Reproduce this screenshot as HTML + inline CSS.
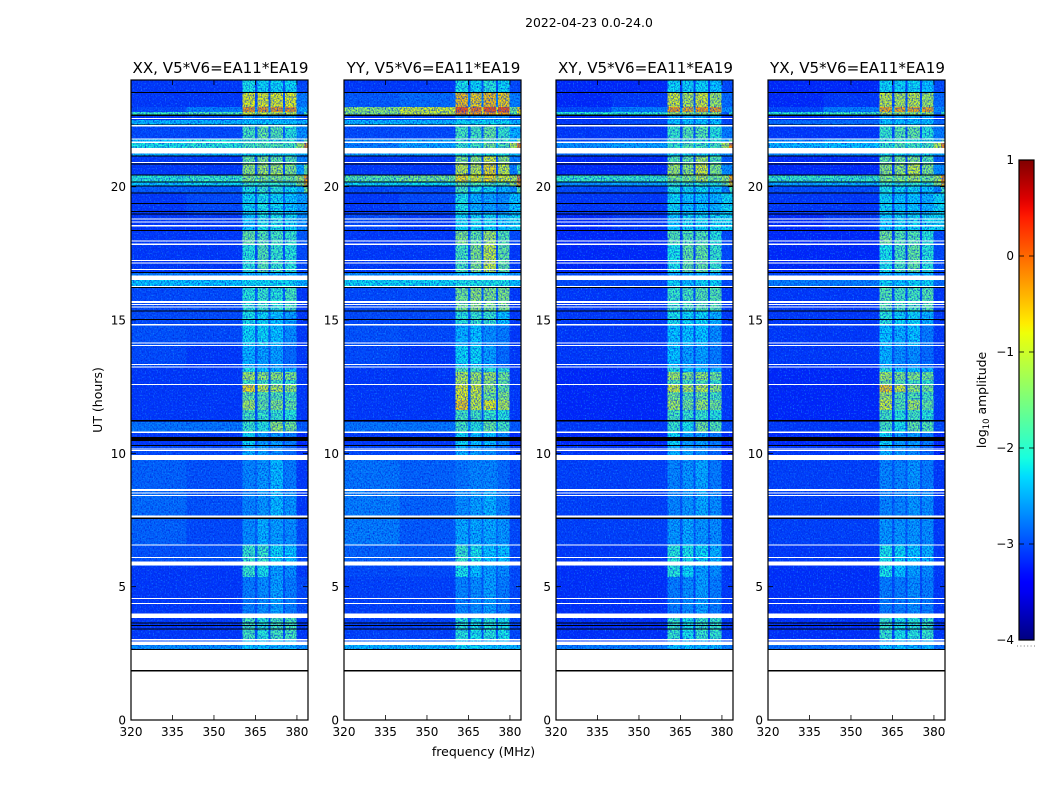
<!DOCTYPE html>
<html lang="en">
<head>
<meta charset="utf-8">
<title>2022-04-23 0.0-24.0</title>
<style>
html,body{margin:0;padding:0;background:#fff;}
svg{display:block;font-family:"DejaVu Sans","Liberation Sans",sans-serif;fill:#000;}
</style>
</head>
<body>
<svg id="chart" width="1050" height="800" viewBox="0 0 1050 800" xmlns="http://www.w3.org/2000/svg">
<defs>
<filter id="speckle-dark" x="0" y="0" width="100%" height="100%" color-interpolation-filters="sRGB">
<feTurbulence type="fractalNoise" baseFrequency="0.75 0.6" numOctaves="1" seed="7"/>
<feColorMatrix type="matrix" values="0 0 0 0 0  0 0 0 0 0.16  0 0 0 0 0.88  2.4 0 0 0 -0.95"/>
</filter>
<filter id="speckle-light" x="0" y="0" width="100%" height="100%" color-interpolation-filters="sRGB">
<feTurbulence type="fractalNoise" baseFrequency="0.75 0.6" numOctaves="1" seed="23"/>
<feColorMatrix type="matrix" values="0 0 0 0 0.1  0 0 0 0 0.6  0 0 0 0 1  2.6 0 0 0 -1.45"/>
</filter>
<linearGradient id="jet-gradient" x1="0" y1="1" x2="0" y2="0"></linearGradient>
</defs>
<text x="589" y="27" font-size="12.4" text-anchor="middle">2022-04-23 0.0-24.0</text>
<text x="483.500" y="756" font-size="12.5" text-anchor="middle">frequency (MHz)</text>
<text transform="translate(102,400) rotate(-90)" font-size="12.5" text-anchor="middle">UT (hours)</text>
<text transform="translate(986,400) rotate(-90)" font-size="12.4" text-anchor="middle">log<tspan font-size="8.5" dy="3">10</tspan><tspan dy="-3"> amplitude</tspan></text>
<g id="panels"></g>
<g id="colorbar"></g>
</svg>
<script>
// ---- axis ticks ----
const freqTicks = [320, 335, 350, 365, 380];
const utTicks = [0, 5, 10, 15, 20];
const colorbarTicks = [1, 0, -1, -2, -3, -4];

// ---- panel titles ----
const panelTitles = ["XX, V5*V6=EA11*EA19", "YY, V5*V6=EA11*EA19", "XY, V5*V6=EA11*EA19", "YX, V5*V6=EA11*EA19"];

// ---- frequency channels (MHz) and the spectrum column each one reads; -1 = inter-subband gap, -2 = inner band edge ----
const channelEdges = [320, 340, 360.4, 364.8, 365.8, 369.8, 370.5, 374.9, 375.6, 379.9, 382.6, 384];
const channelColumns = [0, 1, 2, -1, 3, -1, 4, -1, 5, -2, 6];

// ---- UT (hours) at the top of each time segment, plus final bottom edge ----
const rowEdges = [24.00,23.51,22.99,22.80,22.69,22.50,22.28,21.79,21.64,21.26,21.15,20.85,20.44,20.18,20.03,19.76,18.98,18.34,17.81,16.80,16.50,16.20,15.34,14.81,14.03,13.20,13.05,12.75,12.56,12.30,12.00,11.63,11.18,10.80,10.31,9.75,8.63,7.54,6.56,5.78,5.36,3.83,3.00,2.81,2.66];

// ---- log10 amplitude per time segment: [low band, mid band, sub1, sub2, sub3, sub4, band edge] ----
const valuesXX = [
[-3.1,-3.1,-2.1,-2.2,-2.2,-2.2,-3.0],[-3.1,-3.1,-0.8,-0.8,-0.8,-0.8,-2.7],[-3.0,-2.7,-0.3,-0.3,-0.3,-0.3,-2.5],[-1.9,-1.8,-0.9,-1.0,-1.0,-1.0,-1.8],
[-3.1,-3.0,-2.6,-2.6,-2.6,-2.6,-3.0],[-2.4,-2.4,-2.3,-2.3,-2.3,-2.3,-2.4],[-3.0,-3.0,-1.8,-1.6,-1.7,-2.0,-2.6],[-2.3,-2.1,-1.9,-1.9,-2.0,-2.0,-1.7],
[-2.1,-2.0,-1.8,-1.7,-1.7,-1.8,-0.3],[-2.4,-2.4,-2.2,-2.2,-2.2,-2.2,-2.4],[-3.1,-3.1,-1.6,-1.4,-1.6,-1.7,-2.7],[-3.1,-3.1,-1.3,-1.2,-1.2,-1.4,-1.6],
[-2.0,-1.9,-1.4,-1.4,-1.4,-1.5,-0.3],[-2.3,-2.2,-1.9,-1.9,-1.9,-1.9,-0.5],[-2.9,-2.9,-2.1,-1.9,-2.0,-2.2,-1.5],[-3.1,-3.0,-2.2,-2.1,-2.2,-2.3,-2.5],
[-3.1,-3.1,-2.3,-2.1,-2.1,-2.2,-2.6],[-3.1,-3.1,-1.6,-1.7,-1.8,-1.9,-2.9],[-3.1,-3.1,-2.0,-1.7,-1.9,-2.0,-3.0],[-2.7,-2.7,-2.4,-2.4,-2.4,-2.4,-2.7],
[-2.3,-2.3,-2.2,-2.2,-2.2,-2.2,-2.4],[-3.0,-3.0,-2.0,-1.9,-2.0,-1.8,-3.1],[-3.0,-3.0,-2.1,-2.2,-2.3,-2.5,-3.1],[-2.95,-3.0,-2.2,-2.2,-2.3,-2.6,-3.1],
[-3.0,-3.1,-2.4,-2.5,-2.5,-2.8,-3.1],[-3.1,-3.1,-2.1,-2.3,-2.4,-2.4,-3.1],[-3.1,-3.1,-1.2,-1.3,-1.3,-1.4,-3.1],[-3.1,-3.1,-1.8,-1.8,-1.8,-1.9,-3.1],
[-3.1,-3.1,-0.7,-1.0,-1.1,-1.3,-3.1],[-3.1,-3.1,-1.6,-1.7,-1.7,-1.8,-3.1],[-3.1,-3.1,-1.2,-1.6,-1.4,-1.6,-3.1],[-3.1,-3.1,-1.8,-1.9,-1.9,-2.0,-3.1],
[-2.75,-2.75,-1.9,-2.0,-1.3,-1.5,-2.9],[-3.1,-3.1,-2.2,-2.5,-2.5,-2.7,-3.2],[-3.0,-3.0,-2.4,-2.5,-2.6,-2.8,-3.1],[-2.85,-2.95,-2.65,-2.55,-2.35,-2.7,-3.1],
[-2.8,-2.95,-2.65,-2.55,-2.35,-2.55,-3.1],[-2.85,-3.0,-2.6,-2.4,-2.5,-2.6,-3.0],[-2.95,-2.95,-1.9,-1.9,-2.2,-2.3,-3.0],[-3.1,-3.1,-1.9,-2.1,-2.5,-2.6,-3.1],
[-3.1,-3.1,-2.7,-2.6,-2.5,-2.7,-3.0],[-3.1,-3.1,-1.8,-2.0,-1.8,-1.8,-3.1],[-3.0,-3.0,-2.3,-2.3,-2.3,-2.3,-3.0],[-2.6,-2.6,-2.3,-2.3,-2.4,-2.4,-2.6]
];
const valuesYY = [
[-3.1,-3.1,-2.1,-2.2,-2.0,-2.2,-3.0],[-2.9,-2.8,-0.5,-0.6,-0.5,-0.6,-2.7],[-1.3,-0.9,0.1,-0.1,0.1,0.1,-0.6],[-1.4,-1.0,-0.2,-0.3,-0.3,-0.3,-0.8],
[-3.1,-3.0,-2.6,-2.6,-2.6,-2.6,-3.0],[-2.4,-2.4,-2.2,-2.2,-2.2,-2.2,-2.4],[-3.0,-3.0,-1.8,-1.8,-1.6,-1.9,-2.4],[-2.6,-2.5,-1.9,-1.9,-1.8,-1.9,-1.5],
[-2.7,-2.5,-1.9,-1.8,-1.5,-1.7,-0.2],[-2.5,-2.5,-2.1,-2.1,-2.1,-2.1,-2.3],[-3.1,-3.1,-1.4,-1.3,-0.9,-1.3,-2.7],[-3.1,-3.1,-1.0,-1.0,-0.7,-1.0,-1.8],
[-1.7,-1.5,-0.7,-0.8,-0.7,-0.9,-0.2],[-2.2,-2.2,-1.6,-1.7,-1.7,-1.7,-0.4],[-3.0,-3.0,-1.8,-2.1,-2.2,-2.4,-1.7],[-3.1,-3.0,-2.1,-2.4,-2.5,-2.6,-2.3],
[-3.0,-3.1,-2.2,-2.2,-2.2,-2.3,-2.2],[-3.1,-3.1,-1.4,-1.6,-1.2,-1.7,-3.0],[-3.1,-3.1,-1.8,-1.4,-1.0,-1.6,-3.1],[-2.6,-2.6,-2.3,-2.3,-2.3,-2.3,-2.6],
[-2.2,-2.2,-2.1,-2.1,-2.1,-2.1,-2.3],[-3.0,-3.0,-1.5,-1.3,-1.4,-1.4,-3.1],[-3.0,-3.0,-2.0,-1.9,-1.9,-2.3,-3.1],[-2.95,-3.0,-2.4,-2.3,-2.6,-2.7,-3.1],
[-3.0,-3.1,-2.2,-2.2,-2.5,-2.8,-3.1],[-3.1,-3.1,-1.7,-1.8,-2.0,-2.0,-3.1],[-3.1,-3.1,-1.1,-1.2,-1.2,-1.5,-3.1],[-3.1,-3.1,-1.1,-1.2,-1.3,-1.6,-3.1],
[-3.1,-3.1,-0.8,-0.9,-1.3,-1.6,-3.1],[-3.1,-3.1,-0.8,-1.0,-1.5,-1.4,-3.1],[-3.1,-3.1,-0.6,-1.0,-0.8,-1.1,-3.1],[-3.1,-3.1,-1.8,-1.8,-1.9,-2.0,-3.1],
[-2.75,-2.75,-1.8,-2.0,-1.6,-1.8,-2.9],[-3.1,-3.1,-2.2,-2.3,-2.3,-2.6,-3.2],[-3.0,-3.0,-2.4,-2.5,-2.6,-2.8,-3.1],[-2.75,-2.85,-2.75,-2.65,-2.65,-2.8,-3.0],
[-2.7,-2.85,-2.6,-2.5,-2.4,-2.65,-3.0],[-2.7,-2.9,-2.45,-2.45,-2.45,-2.55,-3.0],[-2.85,-2.9,-1.9,-2.1,-2.3,-2.3,-3.0],[-3.0,-3.0,-2.1,-2.3,-2.5,-2.6,-3.0],
[-3.05,-3.05,-2.65,-2.6,-2.5,-2.7,-3.0],[-3.05,-3.05,-2.0,-2.1,-2.0,-2.1,-3.0],[-2.9,-2.9,-2.3,-2.3,-2.3,-2.3,-2.9],[-2.4,-2.4,-2.2,-2.2,-2.3,-2.3,-2.4]
];
const valuesXY = [
[-3.2,-3.2,-2.2,-2.2,-2.2,-2.3,-3.0],[-3.2,-3.1,-0.9,-1.1,-0.9,-1.2,-2.8],[-3.0,-2.7,-0.3,-0.4,-0.3,-0.3,-2.6],[-2.0,-2.0,-1.2,-1.3,-1.3,-1.3,-2.0],
[-3.2,-3.1,-2.5,-2.5,-2.5,-2.5,-3.1],[-3.1,-3.0,-2.3,-2.3,-2.3,-2.3,-3.0],[-3.1,-3.1,-1.9,-1.7,-1.7,-2.0,-2.7],[-3.0,-2.8,-2.0,-1.9,-2.0,-2.0,-1.6],
[-2.6,-2.5,-1.9,-1.7,-1.8,-1.8,-0.2],[-2.8,-2.8,-2.2,-2.2,-2.2,-2.2,-2.6],[-3.2,-3.2,-1.7,-1.6,-1.2,-1.7,-2.9],[-3.2,-3.2,-1.2,-1.3,-0.9,-1.4,-2.6],
[-1.9,-1.9,-1.4,-1.4,-1.1,-1.5,-0.4],[-2.6,-2.5,-1.9,-1.9,-1.9,-2.0,-0.6],[-3.0,-3.0,-2.1,-2.2,-2.2,-2.3,-1.8],[-3.1,-3.1,-2.2,-2.3,-2.3,-2.4,-2.2],
[-3.2,-3.1,-2.3,-2.2,-2.2,-2.2,-2.2],[-3.2,-3.2,-1.7,-1.7,-1.7,-2.0,-3.0],[-3.2,-3.2,-2.1,-1.6,-1.6,-1.9,-3.0],[-3.0,-3.0,-2.4,-2.4,-2.4,-2.4,-3.0],
[-3.0,-3.0,-2.2,-2.3,-2.2,-2.2,-3.0],[-3.1,-3.1,-1.9,-1.8,-1.7,-1.7,-3.1],[-3.1,-3.1,-2.1,-2.2,-2.2,-2.4,-3.1],[-3.1,-3.1,-2.3,-2.3,-2.3,-2.6,-3.1],
[-3.1,-3.1,-2.3,-2.5,-2.5,-2.7,-3.1],[-3.2,-3.2,-2.0,-2.3,-2.3,-2.4,-3.1],[-3.2,-3.2,-1.2,-1.4,-1.3,-1.5,-3.1],[-3.2,-3.2,-1.7,-1.8,-1.7,-1.9,-3.1],
[-3.2,-3.2,-0.9,-1.1,-1.1,-1.3,-3.1],[-3.2,-3.2,-1.5,-1.7,-1.6,-1.8,-3.1],[-3.2,-3.2,-1.2,-1.5,-1.3,-1.5,-3.1],[-3.2,-3.2,-1.8,-1.9,-1.9,-2.0,-3.1],
[-3.1,-3.1,-1.9,-2.1,-1.5,-1.7,-3.0],[-3.2,-3.2,-2.2,-2.5,-2.5,-2.7,-3.2],[-3.1,-3.1,-2.4,-2.5,-2.6,-2.8,-3.2],[-3.05,-3.05,-2.65,-2.55,-2.45,-2.7,-3.1],
[-3.05,-3.05,-2.65,-2.55,-2.45,-2.6,-3.1],[-3.05,-3.05,-2.55,-2.45,-2.55,-2.6,-3.1],[-3.1,-3.1,-2.0,-2.1,-2.2,-2.4,-3.1],[-3.15,-3.15,-2.0,-2.2,-2.5,-2.6,-3.1],
[-3.15,-3.15,-2.7,-2.6,-2.5,-2.7,-3.1],[-3.15,-3.15,-1.9,-2.1,-1.9,-1.9,-3.1],[-3.1,-3.1,-2.4,-2.4,-2.4,-2.4,-3.0],[-2.7,-2.7,-2.3,-2.3,-2.4,-2.4,-2.7]
];
const valuesYX = [
[-3.2,-3.2,-2.2,-2.2,-2.2,-2.3,-3.0],[-3.2,-3.1,-1.0,-1.1,-1.0,-1.2,-2.8],[-3.0,-2.7,-0.4,-0.4,-0.4,-0.4,-2.6],[-2.0,-1.9,-1.2,-1.3,-1.3,-1.3,-1.9],
[-3.2,-3.1,-2.5,-2.5,-2.5,-2.5,-3.1],[-2.8,-2.8,-2.3,-2.3,-2.3,-2.3,-2.8],[-3.1,-3.1,-1.9,-1.7,-1.6,-2.0,-2.7],[-2.7,-2.5,-2.0,-1.9,-2.0,-2.0,-1.6],
[-2.4,-2.3,-1.9,-1.7,-1.8,-1.8,-0.2],[-2.6,-2.6,-2.2,-2.2,-2.2,-2.2,-2.5],[-3.2,-3.2,-1.6,-1.5,-1.4,-1.7,-2.9],[-3.2,-3.2,-1.3,-1.3,-1.0,-1.4,-2.6],
[-1.9,-1.9,-1.4,-1.4,-1.2,-1.5,-0.3],[-2.5,-2.4,-1.9,-1.9,-1.9,-2.0,-0.5],[-3.0,-3.0,-2.1,-2.2,-2.2,-2.3,-1.8],[-3.1,-3.1,-2.2,-2.3,-2.3,-2.4,-2.2],
[-3.2,-3.1,-2.3,-2.2,-2.2,-2.2,-2.2],[-3.2,-3.2,-1.5,-1.7,-1.7,-2.0,-3.0],[-3.2,-3.2,-2.1,-1.8,-1.6,-2.0,-3.0],[-3.0,-3.0,-2.4,-2.4,-2.4,-2.4,-3.0],
[-2.7,-2.7,-2.2,-2.3,-2.2,-2.2,-2.8],[-3.1,-3.1,-1.7,-1.8,-1.8,-1.7,-3.1],[-3.1,-3.1,-2.0,-2.2,-2.2,-2.4,-3.1],[-3.1,-3.1,-2.3,-2.4,-2.3,-2.7,-3.1],
[-3.1,-3.1,-2.4,-2.6,-2.6,-2.8,-3.1],[-3.2,-3.2,-2.0,-2.3,-2.3,-2.4,-3.1],[-3.2,-3.2,-1.2,-1.4,-1.4,-1.5,-3.1],[-3.2,-3.2,-1.5,-1.7,-1.8,-1.9,-3.1],
[-3.2,-3.2,-0.6,-0.9,-1.3,-1.5,-3.1],[-3.2,-3.2,-1.2,-1.7,-1.7,-1.8,-3.1],[-3.2,-3.2,-1.0,-1.7,-1.2,-1.6,-3.1],[-3.2,-3.2,-1.8,-2.0,-1.8,-2.0,-3.1],
[-3.1,-3.1,-1.8,-2.1,-1.6,-1.7,-3.0],[-3.2,-3.2,-2.2,-2.5,-2.5,-2.7,-3.2],[-3.1,-3.1,-2.4,-2.5,-2.6,-2.8,-3.2],[-3.05,-3.05,-2.65,-2.65,-2.55,-2.7,-3.1],
[-3.05,-3.05,-2.65,-2.65,-2.55,-2.6,-3.1],[-3.05,-3.05,-2.55,-2.55,-2.55,-2.6,-3.1],[-3.1,-3.1,-2.1,-2.2,-2.3,-2.4,-3.1],[-3.15,-3.15,-2.1,-2.3,-2.5,-2.6,-3.1],
[-3.15,-3.15,-2.7,-2.7,-2.6,-2.7,-3.1],[-3.15,-3.15,-1.9,-2.1,-2.0,-1.9,-3.1],[-3.1,-3.1,-2.4,-2.4,-2.4,-2.4,-3.0],[-2.8,-2.8,-2.3,-2.3,-2.4,-2.4,-2.8]
];
const panelValues = [valuesXX, valuesYY, valuesXY, valuesYX];

// ---- flagged time ranges shared by all panels: start UT, end UT, "w" no data / "k" zero amplitude ----
const flagStart = [23.55,22.71,22.58,22.34,22.31,21.81,21.69,21.45,21.17,20.93,20.87,20.46,20.19,20.04,19.78,19.39,19.09,18.99,18.81,18.69,18.56,18.38,17.99,17.86,17.25,17.15,16.91,16.80,16.66,16.28,16.24,15.71,15.60,15.50,15.35,15.04,14.85,14.16,14.06,13.35,13.25,12.60,11.25,10.81,10.62,10.31,10.18,10.12,9.94,8.66,8.53,8.44,7.66,7.59,6.59,6.11,5.94,4.58,4.39,3.99,3.65,3.56,3.44,3.04,2.95,2.66,1.88];
const flagEnd = [23.51,22.65,22.54,22.31,22.25,21.77,21.64,21.24,21.13,20.88,20.83,20.42,20.16,20.01,19.74,19.35,19.05,18.96,18.77,18.65,18.50,18.34,17.95,17.81,17.21,17.11,16.88,16.77,16.50,16.24,16.20,15.64,15.56,15.47,15.31,15.00,14.79,14.12,14.03,13.31,13.21,12.56,11.19,10.77,10.47,10.27,10.14,10.09,9.75,8.59,8.49,8.40,7.59,7.53,6.56,6.09,5.79,4.54,4.35,3.83,3.61,3.53,3.41,2.99,2.81,2.63,1.82];
const flagKind = ["k","k","w","k","w","w","w","w","k","w","k","k","k","k","k","k","k","k","w","w","w","k","w","w","w","w","w","k","w","w","k","w","w","w","k","k","w","w","w","w","w","w","k","w","k","k","w","w","w","w","w","w","w","k","w","w","w","w","w","w","k","k","k","w","w","k","k"];

// ---- axis functions ----
const panelLeft = [131, 344, 556, 768];
const panelWidth = 177;
const plotTop = 80;
const plotBottom = 720;
const freqMin = 320, freqMax = 384, utMin = 0, utMax = 24;
function xScale(panel, mhz) { return panelLeft[panel] + (mhz - freqMin) / (freqMax - freqMin) * panelWidth; }
function yScale(ut) { return plotBottom - (ut - utMin) / (utMax - utMin) * (plotBottom - plotTop); }

const cbLeft = 1019, cbRight = 1034, cbTop = 160, cbBottom = 640, cbMin = -4, cbMax = 1;
function cbScale(v) { return cbBottom - (v - cbMin) / (cbMax - cbMin) * (cbBottom - cbTop); }

function piece(t, pts) {
  for (let i = 1; i < pts.length; i++) {
    if (t <= pts[i][0]) {
      const a = pts[i - 1], b = pts[i];
      return a[1] + (b[1] - a[1]) * (t - a[0]) / (b[0] - a[0]);
    }
  }
  return pts[pts.length - 1][1];
}
const jetR = [[0,0],[.35,0],[.66,1],[.89,1],[1,.5]];
const jetG = [[0,0],[.125,0],[.375,1],[.64,1],[.91,0],[1,0]];
const jetB = [[0,.5],[.11,1],[.34,1],[.65,0],[1,0]];
function colorOf(v) {
  const t = Math.max(0, Math.min(1, (v - cbMin) / (cbMax - cbMin)));
  return "rgb(" + Math.round(piece(t, jetR) * 255) + "," + Math.round(piece(t, jetG) * 255) + "," + Math.round(piece(t, jetB) * 255) + ")";
}
function cellValue(row, col) {
  if (col === -1) return row[1] + 0.15;
  if (col === -2) return row[6] > -2.2 ? row[6] - 0.9 : row[6];
  return row[col];
}

const NS = "http://www.w3.org/2000/svg";
function make(tag, parent, attrs) {
  const el = document.createElementNS(NS, tag);
  for (const k in attrs) el.setAttribute(k, attrs[k]);
  parent.appendChild(el);
  return el;
}
function minusText(v) { return v < 0 ? "\u2212" + Math.abs(v) : String(v); }

const panelsRoot = document.getElementById("panels");
panelTitles.forEach(function (title, p) {
  const g = make("g", panelsRoot, {});
  
  

  const values = panelValues[p];
  const heat = make("g", g, { "shape-rendering": "crispEdges" });
  
  
  values.forEach(function (row, r) {
    const yTop = yScale(rowEdges[r]);
    const yBot = yScale(rowEdges[r + 1]);
    channelColumns.forEach(function (col, c) {
      const x0 = xScale(p, channelEdges[c]);
      const x1 = xScale(p, channelEdges[c + 1]);
      const cell = make("rect", heat, { x: x0, y: yTop, width: x1 - x0, height: yBot - yTop, fill: colorOf(cellValue(row, col)) });
      
      
    });
  });

  const noiseTop = yScale(rowEdges[0]);
  const noiseBottom = yScale(rowEdges[rowEdges.length - 1]);
  const noiseDark = make("rect", g, { x: panelLeft[p], y: noiseTop, width: panelWidth, height: noiseBottom - noiseTop, filter: "url(#speckle-dark)" });
  
  
  const noiseLight = make("rect", g, { x: panelLeft[p], y: noiseTop, width: panelWidth, height: noiseBottom - noiseTop, filter: "url(#speckle-light)" });
  
  

  const flags = make("g", g, { "shape-rendering": "crispEdges" });
  
  
  flagKind.forEach(function (kind, i) {
    const y0 = yScale(flagStart[i]);
    const y1 = yScale(flagEnd[i]);
    const band = make("rect", flags, { x: panelLeft[p], y: y0, width: panelWidth, height: Math.max(1, y1 - y0), fill: kind === "w" ? "#fff" : "#000" });
    
    
  });

  const frame = make("rect", g, { x: panelLeft[p], y: plotTop, width: panelWidth, height: plotBottom - plotTop, fill: "none", stroke: "#000", "stroke-width": "1.2" });
  
  

  const titleEl = make("text", g, { x: panelLeft[p] + panelWidth / 2 + 1, y: 73, "font-size": "15.1", "text-anchor": "middle" });
  titleEl.textContent = title;
  
  

  freqTicks.forEach(function (f) {
    const x = xScale(p, f);
    const t1 = make("line", g, { x1: x, x2: x, y1: plotBottom, y2: plotBottom - 5, stroke: "#000", "stroke-width": "0.8" });
    
    
    const t2 = make("line", g, { x1: x, x2: x, y1: plotTop, y2: plotTop + 5, stroke: "#000", "stroke-width": "0.8" });
    
    
    const lab = make("text", g, { x: x, y: 736, "font-size": "12", "text-anchor": "middle" });
    lab.textContent = String(f);
    
    
  });
  utTicks.forEach(function (u) {
    const y = yScale(u);
    const x0 = panelLeft[p], x1 = x0 + panelWidth;
    const t1 = make("line", g, { x1: x0, x2: x0 + 5, y1: y, y2: y, stroke: "#000", "stroke-width": "0.8" });
    
    
    const t2 = make("line", g, { x1: x1, x2: x1 - 5, y1: y, y2: y, stroke: "#000", "stroke-width": "0.8" });
    
    
    const lab = make("text", g, { x: x0 - 5, y: y + 4.5, "font-size": "12", "text-anchor": "end" });
    lab.textContent = String(u);
    
    
  });
});

// ---- colorbar ----
const grad = document.getElementById("jet-gradient");
for (let i = 0; i <= 50; i++) {
  const v = cbMin + (cbMax - cbMin) * i / 50;
  make("stop", grad, { offset: (i / 50), "stop-color": colorOf(v) });
}
const cb = document.getElementById("colorbar");
const cbRect = make("rect", cb, { x: cbLeft, y: cbTop, width: cbRight - cbLeft, height: cbBottom - cbTop, fill: "url(#jet-gradient)", stroke: "#000", "stroke-width": "1.2" });


colorbarTicks.forEach(function (v) {
  const y = cbScale(v);
  const a = make("line", cb, { x1: cbLeft, x2: cbLeft + 5, y1: y, y2: y, stroke: "#000", "stroke-width": "0.8" });
  
  
  const b = make("line", cb, { x1: cbRight, x2: cbRight - 5, y1: y, y2: y, stroke: "#000", "stroke-width": "0.8" });
  
  
  const lab = make("text", cb, { x: cbLeft - 5, y: y + 4, "font-size": "12", "text-anchor": "end" });
  lab.textContent = minusText(v);
  
  
});
const cbDots = make("line", cb, { x1: cbLeft - 2, x2: cbRight + 1, y1: 646, y2: 646, stroke: "#777", "stroke-width": "1", "stroke-dasharray": "1 2.4" });


</script>
</body>
</html>
